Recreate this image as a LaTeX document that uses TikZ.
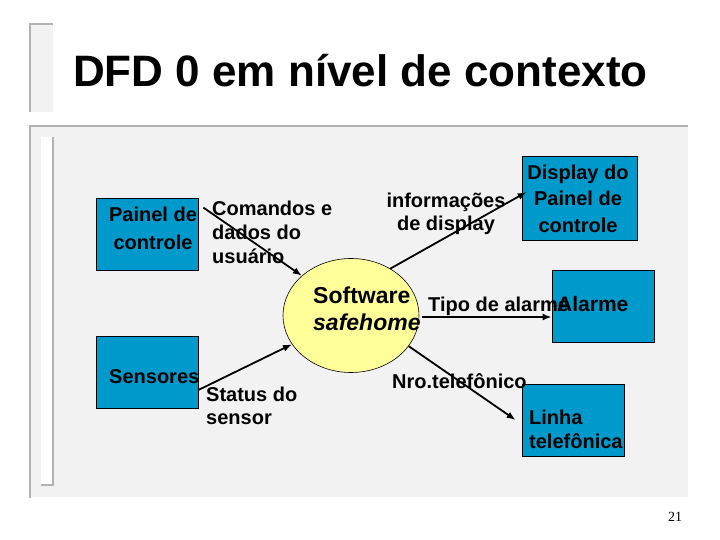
\documentclass[tikz,border=0pt]{standalone}
\usepackage{fontspec}
\setmainfont{Liberation Sans}
\newfontfamily\numfont{Liberation Serif}
\usepackage{tikz}
\usetikzlibrary{arrows.meta,shapes.geometric,positioning}
\definecolor{boxblue}{RGB}{0,153,204}
\definecolor{bubble}{RGB}{255,255,153}
\definecolor{slidebg}{RGB}{242,242,242}
\definecolor{rule}{RGB}{178,178,178}
\newcommand{\lblfont}{\bfseries\fontsize{20}{24}\selectfont}
\tikzset{
  entity/.style={draw=black, line width=0.8pt, fill=boxblue, inner sep=0, minimum width=102pt, minimum height=72pt},
  lbl/.style={inner sep=0, font=\lblfont},
  flow/.style={-{Latex[length=9pt,width=7pt]}, line width=1.8pt},
  frameline/.style={draw=rule, line width=2pt}
}
\begin{document}
\begin{tikzpicture}[x=1pt,y=-1pt]
\path[use as bounding box, fill=white] (0,0) rectangle (720,540);

\fill[slidebg] (30,24) rectangle (53,112);
\draw[frameline] (53,24) -- (30,24) -- (30,112);
\fill[slidebg] (30,126) rectangle (688,497);
\draw[frameline] (688,126) -- (30,126) -- (30,498);
\fill[white] (41,137) rectangle (53,485);
\draw[frameline] (53,137) -- (53,485) -- (41,485);

\node[anchor=base west, inner sep=0, font=\bfseries\fontsize{44}{44}\selectfont] (title) at (73,87) {DFD 0 em nível de contexto};

\node[entity] (painel) at (147,234) {};
\node[entity] (sens) at (147,372) {};
\node[entity, minimum width=115pt, minimum height=84pt] (disp) at (579.5,198) {};
\node[entity] (alarme) at (603,306) {};
\node[entity] (linha) at (573,420) {};
\node[ellipse, draw=black, line width=0.6pt, fill=bubble, inner sep=0, minimum width=136pt, minimum height=114pt] (sw) at (351,315.5) {};

\node[lbl, anchor=north, align=center, font=\bfseries\fontsize{20}{28}\selectfont] (painel-txt) at (153,206.5) {Painel de\\controle};
\node[lbl, anchor=base west] (sens-txt) at (109,383) {Sensores};
\node[lbl, anchor=north, align=center, font=\bfseries\fontsize{20}{26.5}\selectfont] (disp-txt) at (578,164.5) {Display do\\Painel de\\controle};
\node[lbl, anchor=base west, font=\bfseries\fontsize{21}{24}\selectfont] (alarme-txt) at (557,311) {Alarme};
\node[lbl, anchor=north west, align=left] (linha-txt) at (529,409.5) {Linha\\telefônica};
\node[lbl, anchor=north west, align=left, font=\bfseries\fontsize{23}{27}\selectfont] (sw-txt) at (313,286.5) {Software\\\textit{safehome}};

\draw[flow] ([xshift=5pt,yshift=-10pt]painel.north east) -- (sw.141);
\draw[flow] ([yshift=-18pt]sens.east) -- (sw.206);
\draw[flow] (sw.50) -- ([xshift=5pt,yshift=6pt]disp.west);
\draw[flow] ([xshift=3pt,yshift=-1.5pt]sw.east) -- ([yshift=-11pt]alarme.west);
\draw[flow] (sw.-28) -- ([xshift=-6pt]linha.west);

\node[lbl, anchor=north west, align=left] (cmd) at (212,200.5) {Comandos e\\dados do\\usuário};
\node[lbl, anchor=north west, align=left, font=\bfseries\fontsize{20}{23}\selectfont] (status) at (206,386.5) {Status do\\sensor};
\node[lbl, anchor=north, align=center, font=\bfseries\fontsize{20}{23}\selectfont] (info) at (446,192.5) {informações\\de display};
\node[lbl, anchor=base west] (tipo) at (428,311) {Tipo de alarme};
\node[lbl, anchor=base west] (nro) at (392,388) {Nro.telefônico};

\node[anchor=base west, inner sep=0, font=\numfont\fontsize{14}{14}\selectfont] (pagenum) at (668,521) {21};
\end{tikzpicture}
\end{document}
